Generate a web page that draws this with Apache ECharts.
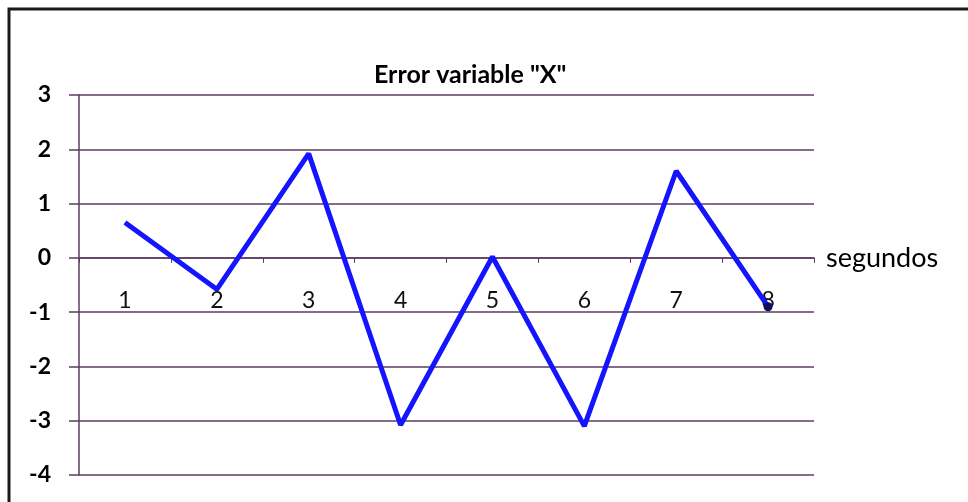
<!DOCTYPE html>
<html>
<head>
<meta charset="utf-8">
<script src="https://cdn.jsdelivr.net/npm/echarts@6/dist/echarts.min.js"></script>
<style>
  html, body { margin: 0; padding: 0; background: #fff; }
  #chart { width: 968px; height: 502px; }
</style>
</head>
<body>
<div id="chart"></div>
<script>
  // datos
  var segundos = ['1', '2', '3', '4', '5', '6', '7', '8'];
  var errorX = [0.65, -0.58, 1.92, -3.08, 0.02, -3.1, 1.6, -0.9];
  var yTicks = { min: -4, max: 3, step: 1 };

  var gridColor = '#5c3d62';
  var gridTop = 95, gridBottom = 27;
  var plotH = 502 - gridTop - gridBottom;
  // eje X cruzando en y = 0
  var zeroOffset = -plotH * (0 - yTicks.min) / (yTicks.max - yTicks.min);

  var myChart = echarts.init(document.getElementById('chart'));

  myChart.setOption({
    backgroundColor: '#ffffff',
    textStyle: { fontFamily: 'Lato' },
    graphic: [{
      type: 'rect',
      shape: { x: 9, y: 9, width: 1000, height: 600 },
      style: { fill: 'none', stroke: '#1a1a1a', lineWidth: 3 },
      silent: true
    }],
    title: {
      text: 'Error variable "X"',
      left: 369,
      top: 57,
      textStyle: { fontFamily: 'Lato', fontSize: 25, fontWeight: 'bold', color: '#000' }
    },
    grid: { left: 79, right: 154, top: gridTop, bottom: gridBottom, outerBoundsMode: 'none' },
    xAxis: {
      type: 'category',
      data: segundos,
      boundaryGap: true,
      offset: zeroOffset,
      name: 'segundos',
      nameLocation: 'end',
      nameGap: 12,
      nameTextStyle: { fontSize: 27, color: '#000', align: 'left', verticalAlign: 'middle', padding: [86, 0, 0, 0] },
      axisLine: { onZero: false, lineStyle: { color: gridColor, width: 1.5 } },
      axisTick: { show: true, length: 5, lineStyle: { color: gridColor } },
      axisLabel: { fontSize: 23, color: '#111', margin: 31 },
      splitLine: { show: false }
    },
    yAxis: {
      type: 'value',
      min: yTicks.min,
      max: yTicks.max,
      interval: yTicks.step,
      axisLine: { show: true, lineStyle: { color: gridColor, width: 1.5 } },
      axisTick: { show: true, length: 10, lineStyle: { color: gridColor, width: 1.5 } },
      axisLabel: { fontSize: 23, fontWeight: 'bold', color: '#000', margin: 28 },
      splitLine: { show: true, lineStyle: { color: gridColor, width: 1.5 } }
    },
    series: [{
      name: 'Error X',
      type: 'line',
      data: errorX.map(function (v, i) {
        if (i === errorX.length - 1) {
          return { value: v, symbol: 'circle', symbolSize: 9, itemStyle: { color: '#10105a' } };
        }
        return v;
      }),
      showSymbol: true,
      symbol: 'none',
      lineStyle: { color: '#1414ff', width: 5 },
      itemStyle: { color: '#1414ff' },
      animation: false,
      z: 3
    }]
  });

  window.addEventListener('resize', function () {
    myChart.resize();
  });
</script>
</body>
</html>
